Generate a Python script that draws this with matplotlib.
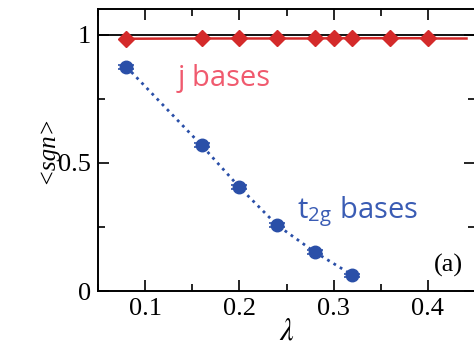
import matplotlib
matplotlib.use("Agg")
import matplotlib.pyplot as plt
from matplotlib.ticker import MultipleLocator

# data
lam_j = [0.08, 0.16, 0.20, 0.24, 0.28, 0.30, 0.32, 0.36, 0.40]
sgn_j = [0.984, 0.985, 0.985, 0.985, 0.985, 0.986, 0.986, 0.986, 0.986]
lam_t = [0.08, 0.16, 0.20, 0.24, 0.28, 0.32]
sgn_t = [0.875, 0.568, 0.405, 0.257, 0.152, 0.062]
err_t = [0.008, 0.008, 0.008, 0.008, 0.008, 0.006]
xticks = [0.1, 0.2, 0.3, 0.4]
yticks = [0, 0.5, 1]
yticklabels = ["0", "0.5", "1"]

serif = "Liberation Serif"
plt.rcParams["font.family"] = [serif, "DejaVu Serif"]
plt.rcParams["mathtext.fontset"] = "stix"

fig = plt.figure(figsize=(4.74, 3.5), dpi=100)
ax = fig.add_axes([98/474, 59/350, 377/474, 282/350])
ax.set_xlim(0.05, 0.45)
ax.set_ylim(0, 1.1)

ax.axhline(1.0, color="black", lw=1.3, zorder=1)

ax.plot(lam_j, sgn_j, color="#d42a2a", lw=1.8, marker="D", ms=8,
        markeredgecolor="#d42a2a", zorder=3)
ax.plot([lam_j[-1], 0.44], [sgn_j[-1], sgn_j[-1]], color="#d42a2a", lw=1.8, zorder=3)

ax.errorbar(lam_t, sgn_t, yerr=err_t, color="#2a4fa8", lw=2, ls=":",
            marker="o", ms=9, capsize=6, elinewidth=1.2, capthick=1.2, zorder=3)

ax.set_xticks(xticks)
ax.set_yticks(yticks)
ax.set_yticklabels(yticklabels)
ax.xaxis.set_minor_locator(MultipleLocator(0.05))
ax.yaxis.set_minor_locator(MultipleLocator(0.25))
ax.tick_params(which="both", direction="in", top=True, right=True, width=1.2)
ax.tick_params(which="major", length=8, labelsize=19, pad=5)
ax.tick_params(which="minor", length=5)
for s in ax.spines.values():
    s.set_linewidth(1.4)

ax.set_xlabel(r"$\lambda$", fontsize=22, labelpad=-2)
ax.set_ylabel("<sgn>", fontsize=18, style="italic", labelpad=0)

ax.text(0.134, 0.83, "j bases", color="#f05a6e", fontsize=21, fontfamily="Open Sans",
        ha="left", va="center")
ax.text(0.261, 0.31, r"t$_{\mathregular{2g}}$ bases", color="#3a5cb4", fontsize=21,
        fontfamily="Open Sans", ha="left", va="center")
ax.text(0.437, 0.10, "(a)", fontsize=19, ha="right", va="center")

fig.savefig("out.png", dpi=100)
